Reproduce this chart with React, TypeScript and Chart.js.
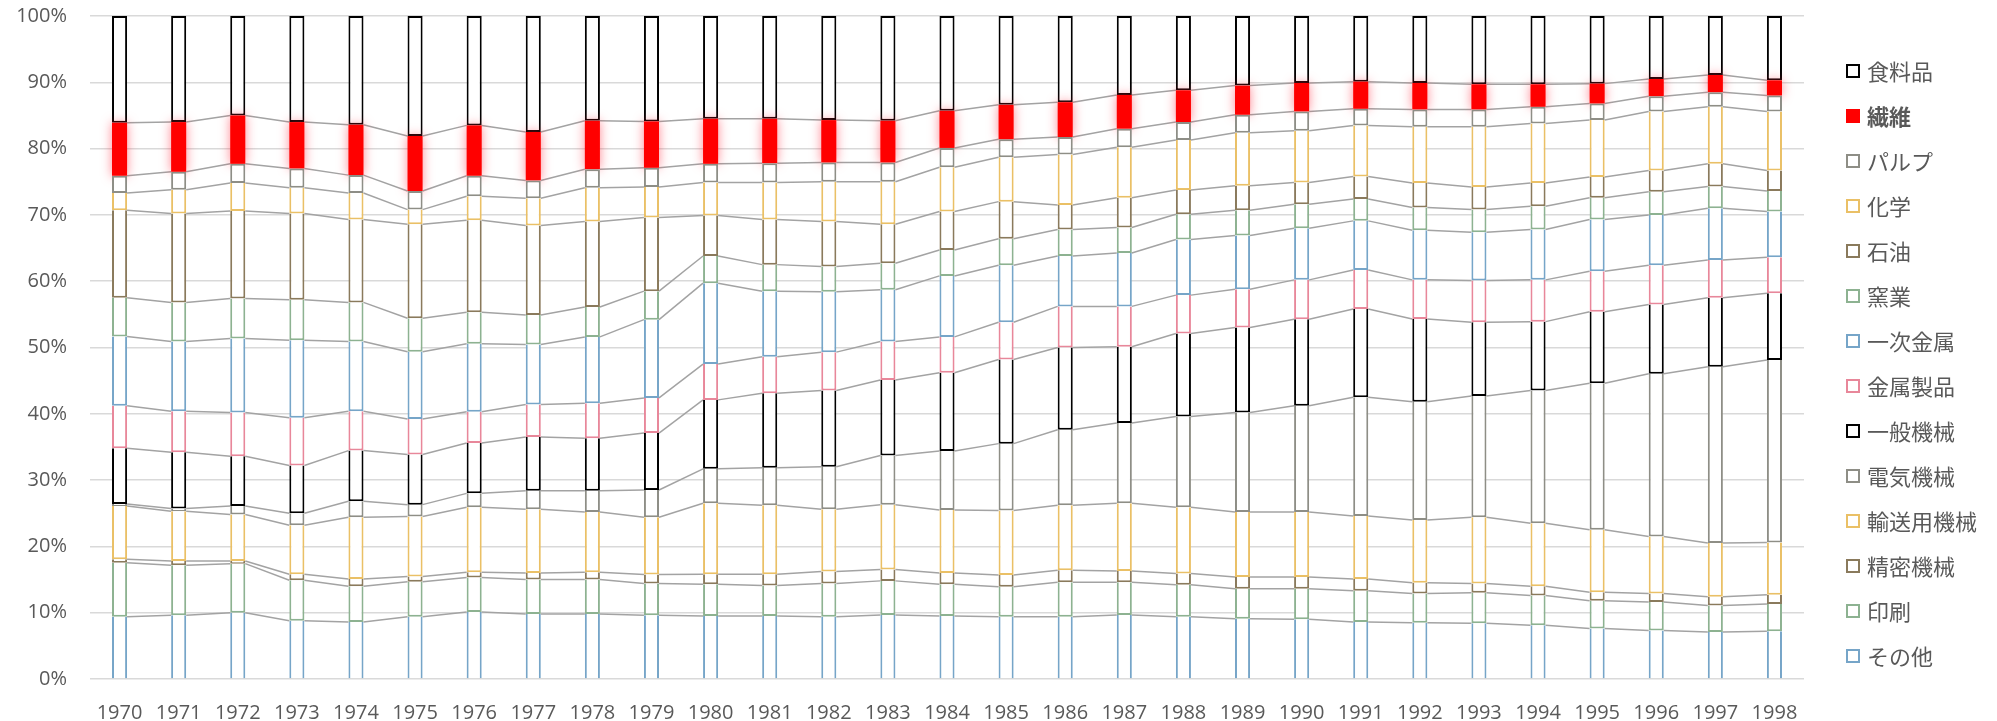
import React, { useEffect, useRef } from "react";
import { Chart, registerables } from "chart.js";

Chart.register(...registerables);

// Industry shares of manufacturing shipments (%), 1970–1998
const years = [
  "1970", "1971", "1972", "1973", "1974", "1975", "1976", "1977", "1978", "1979",
  "1980", "1981", "1982", "1983", "1984", "1985", "1986", "1987", "1988", "1989",
  "1990", "1991", "1992", "1993", "1994", "1995", "1996", "1997", "1998",
];

const sonota = [9.4, 9.6, 10.0, 8.8, 8.6, 9.4, 10.1, 9.8, 9.8, 9.6, 9.5, 9.5, 9.4, 9.65, 9.5, 9.4, 9.4, 9.65, 9.4, 9.1, 9.0, 8.6, 8.5, 8.4, 8.1, 7.6, 7.3, 7.1, 7.2];
const insatsu = [8.15, 7.55, 7.4, 6.1, 5.4, 5.25, 5.2, 5.2, 5.2, 4.8, 4.8, 4.6, 5.0, 5.15, 4.8, 4.5, 5.2, 4.95, 4.8, 4.5, 4.6, 4.7, 4.4, 4.6, 4.5, 4.2, 4.3, 4.0, 4.1];
const seimitsu = [0.5, 0.65, 0.4, 0.9, 1.1, 0.8, 0.8, 1.0, 1.1, 1.35, 1.5, 1.7, 1.8, 1.7, 1.7, 1.8, 1.8, 1.7, 1.7, 1.8, 1.8, 1.8, 1.6, 1.4, 1.4, 1.3, 1.3, 1.3, 1.4];
const yusoyo = [8.05, 7.5, 7.0, 7.4, 9.3, 9.05, 9.8, 9.6, 9.1, 8.65, 10.7, 10.4, 9.4, 9.8, 9.5, 9.7, 9.8, 10.2, 10.0, 9.8, 9.8, 9.5, 9.5, 10.0, 9.5, 9.4, 8.6, 8.1, 7.9];
const denki = [0.3, 0.4, 1.3, 1.8, 2.4, 1.8, 2.1, 2.8, 3.2, 4.1, 5.2, 5.65, 6.4, 7.4, 8.9, 10.1, 11.4, 12.1, 13.7, 15.0, 16.0, 17.9, 17.8, 18.3, 20.0, 22.1, 24.55, 26.6, 27.5];
const ippan = [8.4, 8.5, 7.5, 7.2, 7.65, 7.55, 7.6, 8.1, 7.9, 8.6, 10.4, 11.25, 11.5, 11.4, 11.8, 12.7, 12.4, 11.5, 12.5, 12.8, 13.05, 13.3, 12.5, 11.1, 10.4, 10.8, 10.45, 10.4, 10.1];
const kinzokuSeihin = [6.4, 6.2, 6.6, 7.2, 5.95, 5.35, 4.7, 4.9, 5.3, 5.3, 5.4, 5.5, 5.8, 5.8, 5.4, 5.6, 6.2, 6.1, 5.8, 5.8, 5.95, 5.9, 5.9, 6.3, 6.3, 6.1, 5.9, 5.7, 5.4];
const ichijiKinzoku = [10.45, 10.5, 11.15, 11.7, 10.5, 10.15, 10.25, 9.05, 10.0, 11.8, 12.2, 9.9, 9.1, 7.8, 9.2, 8.6, 7.6, 8.05, 8.4, 8.1, 7.8, 7.4, 7.5, 7.3, 7.6, 7.8, 7.6, 7.8, 6.9];
const yogyo = [5.85, 5.9, 6.05, 6.1, 5.9, 5.05, 4.75, 4.45, 4.5, 4.3, 4.1, 4.0, 3.8, 4.0, 3.9, 4.0, 4.0, 3.85, 3.8, 3.8, 3.6, 3.3, 3.4, 3.4, 3.5, 3.3, 3.5, 3.3, 3.1];
const sekiyu = [13.2, 13.4, 13.2, 13.0, 12.5, 14.2, 13.9, 13.5, 12.9, 11.1, 6.1, 6.8, 6.8, 5.9, 5.8, 5.6, 3.7, 4.5, 3.65, 3.7, 3.3, 3.4, 3.7, 3.4, 3.5, 3.1, 3.2, 3.4, 3.1];
const kagaku = [2.6, 3.6, 4.2, 3.9, 4.0, 2.2, 3.6, 4.1, 5.1, 4.6, 5.0, 5.6, 6.0, 6.4, 6.7, 6.7, 7.6, 7.6, 7.55, 8.0, 7.8, 7.7, 8.5, 9.1, 9.0, 8.6, 8.9, 8.6, 8.9];
const parupu = [2.6, 2.7, 2.9, 2.9, 2.7, 2.8, 3.1, 2.7, 2.8, 2.9, 2.8, 2.9, 2.9, 2.9, 2.9, 2.7, 2.65, 2.8, 2.7, 2.7, 2.9, 2.5, 2.6, 2.6, 2.5, 2.5, 2.3, 2.2, 2.4];
const seni = [8.0, 7.5, 7.3, 7.0, 7.6, 8.3, 7.6, 7.3, 7.3, 7.0, 6.8, 6.7, 6.4, 6.3, 5.6, 5.2, 5.25, 5.1, 4.8, 4.4, 4.3, 4.1, 4.0, 3.8, 3.4, 3.0, 2.6, 2.6, 2.3];
const shokuryohin = [16.1, 16.0, 15.0, 16.0, 16.4, 18.1, 16.5, 17.5, 15.8, 15.9, 15.5, 15.5, 15.7, 15.8, 14.3, 13.4, 13.0, 11.9, 11.2, 10.5, 10.1, 9.9, 10.1, 10.3, 10.3, 10.2, 9.5, 8.9, 9.7];

const yTicks = [0, 10, 20, 30, 40, 50, 60, 70, 80, 90, 100];

const BLACK = "#000000";
const RED = "#FF0000";
const GRAY = "#8E8E86";
const YELLOW = "#EAC066";
const BROWN = "#8A7A5C";
const GREEN = "#8DB291";
const BLUE = "#76A5C8";
const PINK = "#E8879A";

const TEXT = "#595959";
const NUM_FONT = "'Open Sans', 'Noto Sans', sans-serif";
const JP_FONT = "'Noto Sans CJK JP', 'Noto Sans', sans-serif";

type Series = { label: string; data: number[]; color: string; filled?: boolean };

// bottom of the stack first
const series: Series[] = [
  { label: "その他", data: sonota, color: BLUE },
  { label: "印刷", data: insatsu, color: GREEN },
  { label: "精密機械", data: seimitsu, color: BROWN },
  { label: "輸送用機械", data: yusoyo, color: YELLOW },
  { label: "電気機械", data: denki, color: GRAY },
  { label: "一般機械", data: ippan, color: BLACK },
  { label: "金属製品", data: kinzokuSeihin, color: PINK },
  { label: "一次金属", data: ichijiKinzoku, color: BLUE },
  { label: "窯業", data: yogyo, color: GREEN },
  { label: "石油", data: sekiyu, color: BROWN },
  { label: "化学", data: kagaku, color: YELLOW },
  { label: "パルプ", data: parupu, color: GRAY },
  { label: "繊維", data: seni, color: RED, filled: true },
  { label: "食料品", data: shokuryohin, color: BLACK },
];

const TEXTILE_INDEX = series.findIndex((s) => s.filled);
const LAST = series.length - 1;

// gray connectors between the segment tops of neighbouring columns
const seriesLines = {
  id: "seriesLines",
  beforeDatasetsDraw(chart: any) {
    const ctx = chart.ctx;
    ctx.save();
    ctx.strokeStyle = "#A3A3A3";
    ctx.lineWidth = 1.5;
    for (let d = 0; d < LAST; d++) {
      const meta = chart.getDatasetMeta(d);
      const els = meta.data;
      for (let i = 0; i < els.length - 1; i++) {
        const a = els[i];
        const b = els[i + 1];
        ctx.beginPath();
        ctx.moveTo(a.x + a.width / 2, a.y);
        ctx.lineTo(b.x - b.width / 2, b.y);
        ctx.stroke();
      }
    }
    ctx.restore();
  },
};

// soft red glow around the textile segments
const glow = {
  id: "glow",
  beforeDatasetDraw(chart: any, args: any) {
    if (args.index === TEXTILE_INDEX) {
      const ctx = chart.ctx;
      ctx.save();
      ctx.shadowColor = "rgba(255, 40, 60, 0.55)";
      ctx.shadowBlur = 11;
    }
  },
  afterDatasetDraw(chart: any, args: any) {
    if (args.index === TEXTILE_INDEX) chart.ctx.restore();
  },
};

// legend on the right, top of the stack listed first
const sideLegend = {
  id: "sideLegend",
  afterDraw(chart: any) {
    const ctx = chart.ctx;
    ctx.save();
    const boxX = 1846;
    const textX = 1867;
    const top = 71;
    const step = 45;
    const items = [...series].reverse();
    items.forEach((s, i) => {
      const cy = top + i * step;
      if (s.filled) {
        ctx.fillStyle = s.color;
        ctx.fillRect(boxX, cy - 7, 14, 14);
      } else {
        ctx.fillStyle = "#FFFFFF";
        ctx.fillRect(boxX, cy - 7, 14, 14);
        ctx.strokeStyle = s.color;
        ctx.lineWidth = 2;
        ctx.strokeRect(boxX + 1, cy - 6, 12, 12);
      }
      ctx.fillStyle = TEXT;
      ctx.textBaseline = "middle";
      ctx.textAlign = "left";
      ctx.font = `${s.filled ? "bold " : ""}22px ${JP_FONT}`;
      ctx.fillText(s.label, textX, cy + 1);
    });
    ctx.restore();
  },
};

export default function App() {
  const ref = useRef<HTMLCanvasElement | null>(null);

  useEffect(() => {
    if (!ref.current) return;
    const datasets = series.map((s, i) => {
      let borderWidth: any;
      if (s.filled) borderWidth = 0;
      else
        borderWidth = {
          left: 2,
          right: 2,
          top: i === LAST || i === TEXTILE_INDEX - 1 ? 2 : 0,
          bottom: i === 0 ? 0 : 2,
        };
      return {
        label: s.label,
        data: s.data,
        backgroundColor: s.filled ? s.color : "#FFFFFF",
        borderColor: s.color,
        borderWidth,
        borderSkipped: false,
        barPercentage: 0.255,
        categoryPercentage: 1,
      };
    });

    const chart = new Chart(ref.current, {
      type: "bar",
      data: { labels: years, datasets },
      options: {
        responsive: false,
        animation: false,
        layout: { padding: { top: 16, right: 193, left: 0, bottom: 0 } },
        plugins: { legend: { display: false }, tooltip: { enabled: false } },
        scales: {
          x: {
            stacked: true,
            grid: { display: false },
            border: { display: false },
            ticks: { color: TEXT, font: { family: NUM_FONT, size: 20 }, padding: 14, maxRotation: 0, autoSkip: false },
            afterFit(scale: any) {
              scale.height = 42;
            },
          },
          y: {
            stacked: true,
            min: 0,
            max: 100,
            afterBuildTicks(scale: any) {
              scale.ticks = yTicks.map((v) => ({ value: v }));
            },
            grid: { color: "#D9D9D9", lineWidth: 1.5, drawTicks: false },
            border: { display: false },
            ticks: {
              color: TEXT,
              font: { family: NUM_FONT, size: 20 },
              padding: 23,
              callback: (v: any) => `${v}%`,
            },
            afterFit(scale: any) {
              scale.width = 90;
              scale.paddingTop = 0;
              scale.paddingBottom = 0;
            },
          },
        },
      },
      plugins: [seriesLines, glow, sideLegend],
    });
    return () => chart.destroy();
  }, []);

  return (
    <div style={{ position: "absolute", left: 0, top: 0, width: 1997, height: 721, background: "#FFFFFF" }}>
      <canvas ref={ref} width={1997} height={721} />
    </div>
  );
}
